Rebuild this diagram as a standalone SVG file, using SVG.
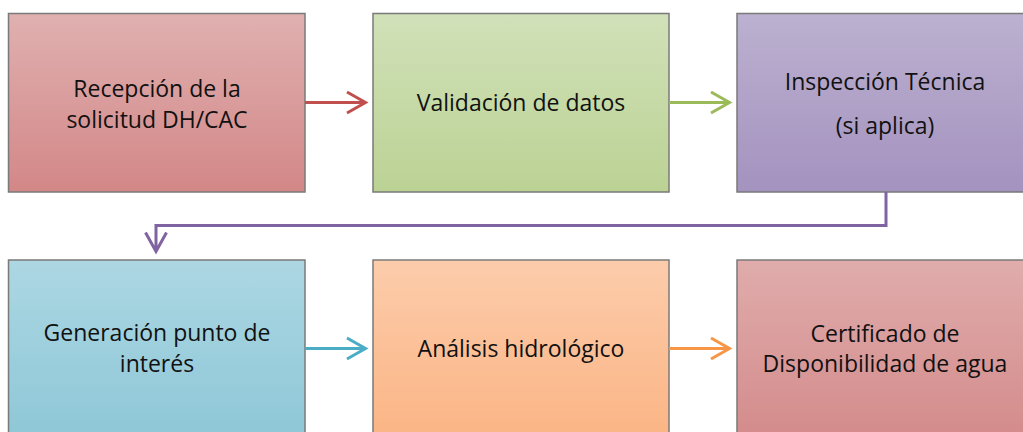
<svg xmlns="http://www.w3.org/2000/svg" width="1023" height="432" viewBox="0 0 1023 432">
<style>
.box{stroke:#7a7a7a;stroke-width:1.5}
.t{font-family:"Open Sans","Liberation Sans",sans-serif;font-size:23px;fill:#111;text-anchor:middle}
.c{fill:none;stroke-width:3}
</style>
<defs>
<linearGradient id="gr" x1="0" y1="0" x2="0" y2="1"><stop offset="0" stop-color="#e0b0b0"/><stop offset="1" stop-color="#d38787"/></linearGradient>
<linearGradient id="gg" x1="0" y1="0" x2="0" y2="1"><stop offset="0" stop-color="#d1e1b9"/><stop offset="1" stop-color="#bbd294"/></linearGradient>
<linearGradient id="gp" x1="0" y1="0" x2="0" y2="1"><stop offset="0" stop-color="#bcb1d0"/><stop offset="1" stop-color="#a492bf"/></linearGradient>
<linearGradient id="gb" x1="0" y1="0" x2="0" y2="1"><stop offset="0" stop-color="#acd7e3"/><stop offset="1" stop-color="#8cc6d6"/></linearGradient>
<linearGradient id="go" x1="0" y1="0" x2="0" y2="1"><stop offset="0" stop-color="#fcccab"/><stop offset="1" stop-color="#fbb382"/></linearGradient>
<linearGradient id="gr2" x1="0" y1="0" x2="0" y2="1"><stop offset="0" stop-color="#e0acac"/><stop offset="1" stop-color="#d38989"/></linearGradient>
</defs>
<g id="n1"><rect class="box" x="8.5" y="13.5" width="296.5" height="178.5" fill="url(#gr)"/><text class="t" x="157" y="97">Recepción de la</text><text class="t" x="157" y="128">solicitud DH/CAC</text></g>
<g id="n2"><rect class="box" x="373" y="13.5" width="296" height="178.5" fill="url(#gg)"/><text class="t" x="521" y="111">Validación de datos</text></g>
<g id="n3"><rect class="box" x="737" y="13.5" width="296" height="178.5" fill="url(#gp)"/><text class="t" x="885" y="90">Inspección Técnica</text><text class="t" x="885" y="134">(si aplica)</text></g>
<g id="n4"><rect class="box" x="8.5" y="260" width="296.5" height="190" fill="url(#gb)"/><text class="t" x="157" y="341">Generación punto de</text><text class="t" x="157" y="372">interés</text></g>
<g id="n5"><rect class="box" x="373" y="260" width="296" height="190" fill="url(#go)"/><text class="t" x="521" y="357">Análisis hidrológico</text></g>
<g id="n6"><rect class="box" x="737" y="260" width="296" height="190" fill="url(#gr2)"/><text class="t" x="885" y="342">Certificado de</text><text class="t" x="885" y="372">Disponibilidad de agua</text></g>
<g id="connectors">
<path class="c" stroke="#c0504d" d="M305 102.5H365M347 92L365.5 102.5L347 113"/>
<path class="c" stroke="#9bbb59" d="M669 102.5H729M711 92L729.5 102.5L711 113"/>
<path class="c" stroke="#8064a2" d="M886 192V225.5H156V251M145.5 232.5L156 251.5L166.5 232.5"/>
<path class="c" stroke="#4bacc6" d="M305 348.5H365M347 338L365.5 348.5L347 359"/>
<path class="c" stroke="#f79646" d="M669 348.5H729M711 338L729.5 348.5L711 359"/>
</g>
</svg>
